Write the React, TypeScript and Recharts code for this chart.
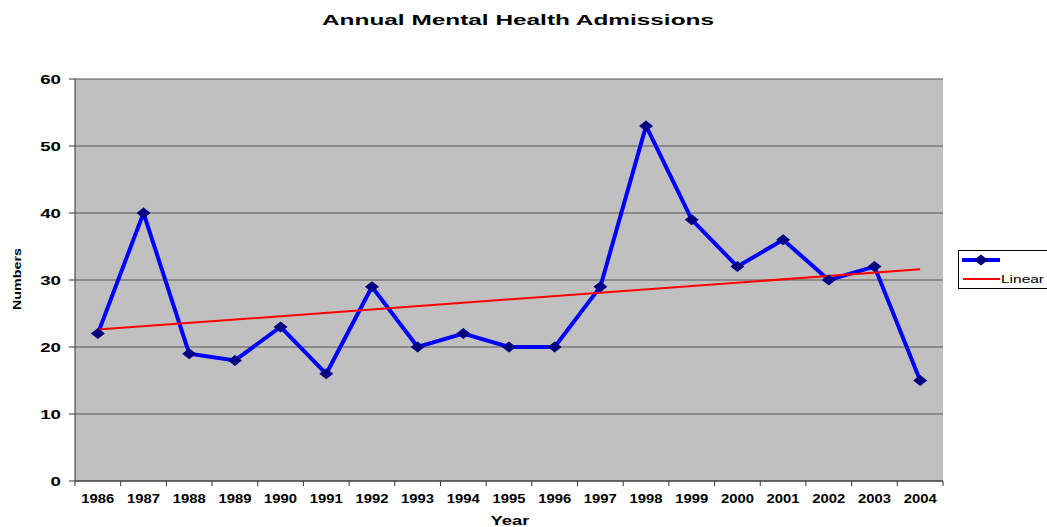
import React from 'react';
import { LineChart, Line, XAxis, YAxis, CartesianGrid, ReferenceLine } from 'recharts';

const years = ['1986', '1987', '1988', '1989', '1990', '1991', '1992', '1993', '1994', '1995', '1996', '1997', '1998', '1999', '2000', '2001', '2002', '2003', '2004'];
const admissions = [22, 40, 19, 18, 23, 16, 29, 20, 22, 20, 20, 29, 53, 39, 32, 36, 30, 32, 15];
const trendStart = 22.6;
const trendEnd = 31.6;
const yTicks = [0, 10, 20, 30, 40, 50, 60];

const data = years.map((year, i) => ({ year, value: admissions[i] }));

const W = 1047;
const H = 527;
const MARGIN = { top: 79, right: 104, bottom: 0, left: 0 };
const Y_AXIS_W = 75;
const X_AXIS_H = 46;
const PLOT_W = W - MARGIN.left - MARGIN.right - Y_AXIS_W;
const BAND = PLOT_W / years.length;

const FONT = 'Liberation Sans, Arial, sans-serif';

const XTick = (props: any) => {
  const { x, y, payload, index } = props;
  const last = index === years.length - 1;
  return (
    <g>
      <line x1={x - BAND / 2} x2={x - BAND / 2} y1={y} y2={y + 5} stroke="#333" strokeWidth={1} />
      {last && <line x1={x + BAND / 2} x2={x + BAND / 2} y1={y} y2={y + 5} stroke="#333" strokeWidth={1} />}
      <text x={x} y={y + 22} textAnchor="middle" fontFamily={FONT} fontWeight="bold" fontSize={12}
        textLength={33} lengthAdjust="spacingAndGlyphs" fill="#000">{payload.value}</text>
    </g>
  );
};

const YTick = (props: any) => {
  const { x, y, payload } = props;
  const s = String(payload.value);
  return (
    <text x={x} y={y + 5} textAnchor="end" fontFamily={FONT} fontWeight="bold" fontSize={13}
      textLength={10.4 * s.length} lengthAdjust="spacingAndGlyphs" fill="#000">{s}</text>
  );
};

const Diamond = (props: any) => {
  const { cx, cy } = props;
  if (cx == null || cy == null) return null;
  return <polygon points={`${cx - 7},${cy} ${cx},${cy - 5.5} ${cx + 7},${cy} ${cx},${cy + 5.5}`} fill="#000080" />;
};

export default function App() {
  return (
    <div style={{ position: 'absolute', left: 0, top: 0, width: W, height: H, background: '#fff' }}>
      <LineChart width={W} height={H} data={data} margin={MARGIN}>
        <CartesianGrid vertical={false} stroke="#555" strokeWidth={1} fill="#C0C0C0" fillOpacity={1} />
        <XAxis dataKey="year" scale="band" height={X_AXIS_H} tickLine={false} tickSize={0} tickMargin={0}
          axisLine={{ stroke: '#333', strokeWidth: 1 }} tick={<XTick />} interval={0} />
        <YAxis domain={[0, 60]} ticks={yTicks} width={Y_AXIS_W} tickSize={6} tickMargin={8}
          tickLine={{ stroke: '#333' }} axisLine={{ stroke: '#333', strokeWidth: 1 }} tick={<YTick />} interval={0} />
        <YAxis yAxisId="right" orientation="right" domain={[0, 60]} width={0} tick={false} tickLine={false}
          axisLine={{ stroke: '#808080', strokeWidth: 1 }} />
        <Line dataKey="value" stroke="#0000FF" strokeWidth={4} dot={<Diamond />} activeDot={false}
          isAnimationActive={false} />
        <ReferenceLine segment={[{ x: years[0], y: trendStart }, { x: years[years.length - 1], y: trendEnd }]}
          stroke="#FF0000" strokeWidth={2} ifOverflow="visible" />
      </LineChart>
      <svg width={W} height={H} style={{ position: 'absolute', left: 0, top: 0, pointerEvents: 'none' }}>
        <text x={518} y={25} textAnchor="middle" fontFamily={FONT} fontWeight="bold" fontSize={15}
          textLength={392} lengthAdjust="spacingAndGlyphs" fill="#000">Annual Mental Health Admissions</text>
        <text x={0} y={0} transform="translate(21,279) rotate(-90)" textAnchor="middle" fontFamily={FONT}
          fontWeight="bold" fontSize={11} textLength={62} lengthAdjust="spacingAndGlyphs" fill="#000">Numbers</text>
        <text x={510} y={525} textAnchor="middle" fontFamily={FONT} fontWeight="bold" fontSize={13}
          textLength={39} lengthAdjust="spacingAndGlyphs" fill="#000">Year</text>
        <rect x={958.5} y={250.5} width={100} height={38} fill="#fff" stroke="#000" strokeWidth={1} />
        <line x1={962} x2={1000} y1={260} y2={260} stroke="#0000FF" strokeWidth={4} />
        <polygon points="974,260 981,254.5 988,260 981,265.5" fill="#000080" />
        <line x1={963} x2={1000} y1={279} y2={279} stroke="#FF0000" strokeWidth={2} />
        <text x={1001} y={283} fontFamily={FONT} fontSize={11} textLength={43} lengthAdjust="spacingAndGlyphs"
          fill="#000">Linear</text>
      </svg>
    </div>
  );
}
